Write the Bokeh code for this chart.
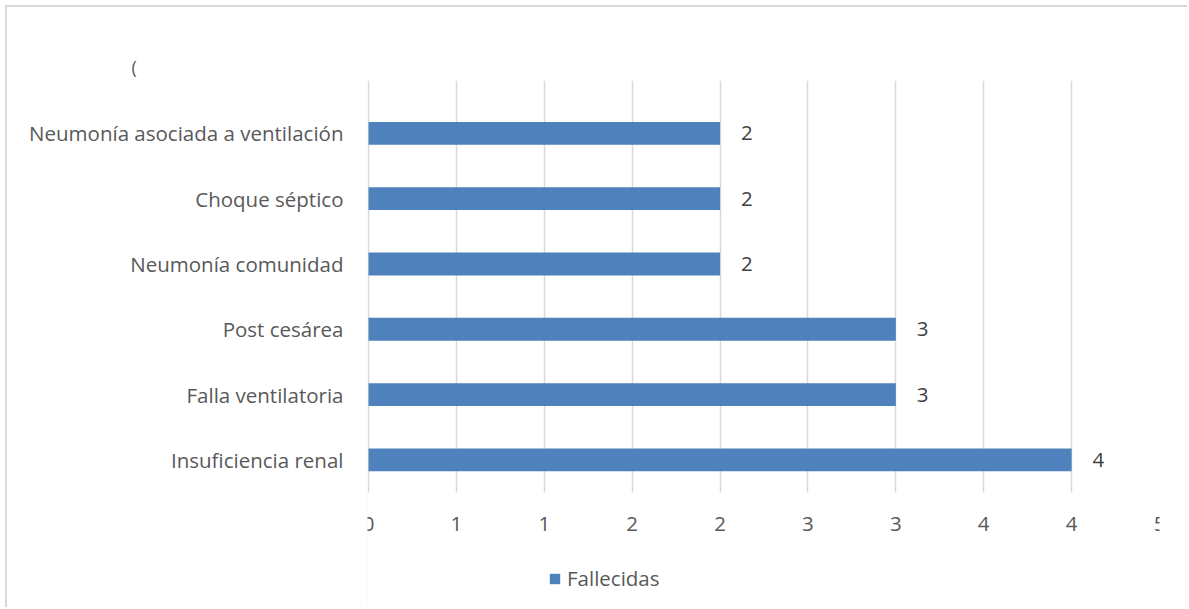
from bokeh.plotting import figure
from bokeh.models import (Range1d, FixedTicker, ColumnDataSource, Legend, LegendItem,
                          BoxAnnotation)
from bokeh.embed import file_html
from bokeh.resources import INLINE

# Causes of death, listed bottom to top
causes = ["Insuficiencia renal", "Falla ventilatoria", "Post cesárea",
          "Neumonía comunidad", "Choque séptico", "Neumonía asociada a ventilación"]
fallecidas = [4, 3, 3, 2, 2, 2]

# x ticks every half unit, labelled with zero decimals
x_ticks = [0, 0.5, 1, 1.5, 2, 2.5, 3, 3.5, 4, 4.5]
x_tick_labels = ["0", "1", "1", "2", "2", "3", "3", "4", "4", "5"]

FONT = "Open Sans"
TEXT = "#595959"
BLUE = "#4f81bd"
GRID = "#d9d9d9"
FS = "20.5px"

pos = list(range(len(causes)))
src = ColumnDataSource(dict(y=pos, v=fallecidas, lbl=[str(v) for v in fallecidas]))

# the plotting area reaches the bottom edge so the legend can live inside it;
# the category band itself runs from -0.5 to 5.81
Y_LOW = -0.5
OFF = 7
p = figure(width=1189 - OFF, height=609 - OFF, output_backend="svg", toolbar_location=None,
           x_range=Range1d(-0.006, 4.5), y_range=Range1d(-2.292, 5.81),
           min_border_left=367 - OFF, min_border_right=30, min_border_top=80 - OFF,
           min_border_bottom=0)
p.styles = {"margin-left": "5px", "margin-top": "5px",
            "border-left": f"2px solid {GRID}", "border-top": f"2px solid {GRID}"}
p.outline_line_color = None
p.background_fill_color = "white"
p.border_fill_color = "white"

p.title.text = "("
p.title.align = "left"
p.title.offset = 131 - 367
p.title.text_font = FONT
p.title.text_font_size = "18px"
p.title.text_font_style = "normal"
p.title.text_color = TEXT
p.title.standoff = 4

p.xgrid.grid_line_color = GRID
p.xgrid.grid_line_width = 1.5
p.ygrid.grid_line_color = None

# blank out the vertical gridlines below the category band
p.add_layout(BoxAnnotation(top=Y_LOW, fill_color="white", fill_alpha=1.0,
                           line_color=None, level="underlay"))

bars = p.hbar(y="y", right="v", left=0, height=0.35, source=src,
              fill_color=BLUE, line_color=None)
p.text(x="v", y="y", text="lbl", source=src, x_offset=21,
       text_baseline="middle", text_align="left", text_color="#404040",
       text_font_size=FS, text_font={"value": FONT})

# x axis pinned to the bottom of the category band
p.xaxis.fixed_location = Y_LOW
p.xaxis.ticker = FixedTicker(ticks=x_ticks)
p.xaxis.major_label_overrides = {t: l for t, l in zip(x_ticks, x_tick_labels)}
p.xaxis.axis_line_color = None
p.xaxis.major_tick_line_color = None
p.xaxis.minor_tick_line_color = None
p.xaxis.major_label_standoff = 19
p.xaxis.major_label_text_font = FONT
p.xaxis.major_label_text_font_size = FS
p.xaxis.major_label_text_color = TEXT

# y axis with cause names
p.yaxis.ticker = FixedTicker(ticks=pos)
p.yaxis.major_label_overrides = {i: c for i, c in zip(pos, causes)}
p.yaxis.axis_line_color = None
p.yaxis.major_tick_line_color = None
p.yaxis.minor_tick_line_color = None
p.yaxis.major_label_standoff = 18
p.yaxis.major_label_text_font = FONT
p.yaxis.major_label_text_font_size = FS
p.yaxis.major_label_text_color = TEXT

legend = Legend(items=[LegendItem(label="Fallecidas", renderers=[bars])],
                location=(181, 17), orientation="horizontal",
                label_text_font=FONT, label_text_font_size=FS,
                label_text_color=TEXT, glyph_width=13, glyph_height=13,
                border_line_color=None, background_fill_alpha=0,
                padding=0, margin=0, label_standoff=6)
p.add_layout(legend, "center")

open("out.html", "w").write(file_html(p, INLINE))
